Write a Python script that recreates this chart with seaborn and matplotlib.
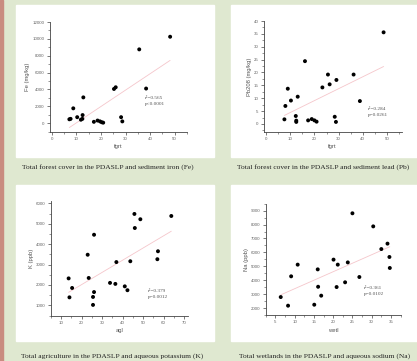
import matplotlib
matplotlib.use("Agg")
import matplotlib.pyplot as plt
import seaborn as sns
import pandas as pd
from matplotlib.patches import Rectangle
from matplotlib.ticker import AutoMinorLocator

# forest cover vs sediment iron
fe_fgrt = [7.1, 7.6, 8.7, 10.3, 11.8, 12.4, 12.5, 12.8, 17.1, 18.6, 19.6, 20.3, 20.9,
           25.3, 26.0, 28.2, 28.7, 35.6, 38.4, 48.2]
fe_val = [450, 500, 1750, 700, 400, 500, 950, 3050, 150, 300, 200, 100, 50,
          4050, 4250, 700, 200, 8750, 4100, 10250]

# forest cover vs sediment lead
pb_fgrt = [7.6, 8.0, 9.0, 10.3, 12.3, 12.5, 12.5, 13.1, 16.1, 17.4, 18.9, 20.0, 20.9,
           23.3, 25.6, 26.3, 28.4, 28.9, 29.1, 36.2, 38.8, 48.6]
pb_val = [1.8, 7.0, 13.7, 9.1, 3.1, 1.3, 0.8, 10.6, 24.4, 1.4, 1.9, 1.4, 0.9,
          14.2, 19.2, 15.4, 2.8, 0.8, 17.1, 19.2, 8.9, 35.6]

# agriculture vs aqueous potassium
k_agl = [13.7, 14.1, 15.4, 23.0, 23.5, 25.6, 25.6, 26.1, 26.1, 33.9, 36.5, 37.0, 41.1,
         42.4, 43.8, 45.8, 46.0, 48.7, 57.0, 57.3, 63.8]
k_val = [2320, 1390, 1850, 3480, 2340, 1410, 1020, 1650, 4460, 2100, 2050, 3120, 1930,
         1740, 3160, 5480, 4790, 5220, 3260, 3650, 5380]

# wetlands vs aqueous sodium
na_wetl = [6.4, 8.3, 9.1, 10.8, 15.1, 16.0, 16.1, 16.9, 20.1, 20.9, 21.2, 23.1, 23.8,
           25.0, 26.8, 30.4, 32.5, 34.1, 34.6, 34.7]
na_val = [2790, 2170, 4280, 5120, 2240, 4780, 3530, 2890, 5480, 3510, 5120, 3850, 5280,
          8810, 4230, 7870, 6240, 6630, 5670, 4880]

captions = [
    "Total forest cover in the PDASLP and sediment iron (Fe)",
    "Total forest cover in the PDASLP and sediment lead (Pb)",
    "Total agriculture in the PDASLP and aqueous potassium (K)",
    "Total wetlands in the PDASLP and aqueous sodium (Na)",
]
stats = ["r\u00b2=0.565\np<0.0001", "r\u00b2=0.284\np=0.0261",
         "r\u00b2=0.379\np=0.0012", "r\u00b2=0.361\np=0.0102"]

sns.set_style("ticks")
plt.rcParams["font.family"] = ["Liberation Sans", "DejaVu Sans"]

W, H = 417, 361
fig = plt.figure(figsize=(W / 100, H / 100), dpi=100)
fig.patch.set_facecolor("#dfe8d0")


def px_rect(x0, y0, x1, y1):
    return [x0 / W, 1 - y1 / H, (x1 - x0) / W, (y1 - y0) / H]


fig.patches.append(Rectangle((0, 0), 3 / W, 1, transform=fig.transFigure,
                             color="#c98c80", zorder=-2))
for x0, y0, x1, y1 in [(16, 5, 214, 157), (231, 5, 417, 157),
                       (16, 185, 214, 341), (231, 185, 417, 341)]:
    fig.patches.append(Rectangle((x0 / W, 1 - y1 / H), (x1 - x0) / W, (y1 - y0) / H,
                                 transform=fig.transFigure, color="white", zorder=-2))

panels = [
    (fe_fgrt, fe_val, "fgrt", "Fe (mg/kg)", (49.5, 22, 186.8, 131.5), (-1, 55), (-1000, 12000),
     [0, 10, 20, 30, 40, 50], [0, 2000, 4000, 6000, 8000, 10000, 12000], (145, 101)),
    (pb_fgrt, pb_val, "fgrt", "Pb208 (mg/kg)", (263.6, 21, 401.5, 131.7), (-1, 56), (-3, 40),
     [0, 10, 20, 30, 40, 50], [0, 5, 10, 15, 20, 25, 30, 35, 40], (368, 112)),
    (k_agl, k_val, "agl", "K (ppb)", (50.8, 201.3, 188.1, 315.5), (5, 72), (500, 6100),
     [10, 20, 30, 40, 50, 60, 70], [1000, 2000, 3000, 4000, 5000, 6000], (148, 294)),
    (na_wetl, na_val, "wetl", "Na (ppb)", (265.7, 203.7, 400.6, 315), (2.5, 37.5), (1500, 9500),
     [5, 10, 15, 20, 25, 30, 35], list(range(2000, 9001, 1000)), (364, 291)),
]

for (xs, ys, xl, yl, box, xlim, ylim, xt, yt, tpos), st in zip(panels, stats):
    ax = fig.add_axes(px_rect(*box))
    ax.set_zorder(2)
    ax.set_facecolor("none")
    df = pd.DataFrame({xl: xs, yl: ys})
    sns.regplot(data=df, x=xl, y=yl, ax=ax, scatter=False, ci=None,
                line_kws={"color": "#f5c6cb", "lw": 0.6})
    sns.scatterplot(data=df, x=xl, y=yl, ax=ax, color="black", s=8,
                    edgecolor="none", zorder=3)
    ax.set_xlim(*xlim)
    ax.set_ylim(*ylim)
    ax.set_xticks(xt)
    ax.set_yticks(yt)
    ax.xaxis.set_minor_locator(AutoMinorLocator(2))
    ax.yaxis.set_minor_locator(AutoMinorLocator(2))
    sns.despine(ax=ax)
    for sp in ["left", "bottom"]:
        ax.spines[sp].set_linewidth(0.6)
        ax.spines[sp].set_color("#444444")
    ax.tick_params(which="major", length=2.2, width=0.5, labelsize=3.2,
                   colors="#444444", pad=1.5, labelcolor="#666666")
    ax.tick_params(which="minor", length=1.2, width=0.4, colors="#444444")
    ax.set_xlabel(xl, fontsize=4.2, labelpad=2.5, color="#555555")
    ax.set_ylabel(yl, fontsize=4.2, labelpad=1.5, color="#555555")
    fig.text(tpos[0] / W, 1 - tpos[1] / H, st, fontsize=3.8, family="Liberation Serif",
             color="#555555", va="center", ha="left", linespacing=1.4, zorder=5)

for (cx, cy), cap in zip([(108, 167), (323, 167), (112, 356), (325, 356)], captions):
    fig.text(cx / W, 1 - cy / H, cap, fontsize=5.4, family="Liberation Serif",
             ha="center", va="center", color="#222222")

fig.savefig("out.png", dpi=100, facecolor=fig.get_facecolor())
